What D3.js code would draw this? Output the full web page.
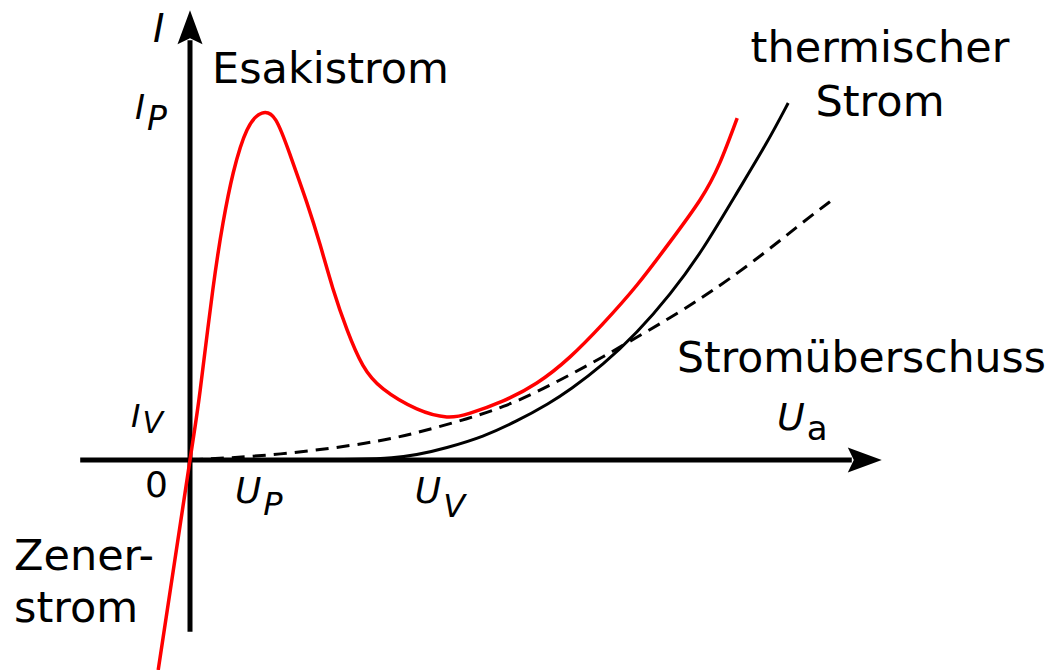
<!DOCTYPE html>
<html>
<head>
<meta charset="utf-8">
<script src="https://cdn.jsdelivr.net/npm/d3@7"></script>
<style>
  html, body { margin: 0; padding: 0; background: #fff; }
  svg { display: block; }
  text { font-family: "DejaVu Sans", sans-serif; fill: #000; }
  .it { font-style: italic; }
</style>
</head>
<body>
<svg width="1051" height="670"></svg>
<script>
// tunnel diode characteristic (U, I in arbitrary units)
const esakiCurve = [
  [-0.53, -6.0], [0, 0], [0.17, 2.0], [0.38, 4.86], [0.55, 6.77], [0.72, 8.2],
  [0.95, 9.43], [1.2, 9.91], [1.43, 9.71], [1.67, 8.71], [1.95, 7.34], [2.17, 6.14],
  [2.38, 4.91], [2.62, 3.71], [2.88, 2.71], [3.22, 2.03], [3.78, 1.46], [4.28, 1.23],
  [4.67, 1.34], [5.22, 1.69], [5.78, 2.2], [6.33, 2.94], [6.88, 3.89], [7.45, 5.0],
  [8.0, 6.23], [8.5, 7.43], [8.83, 8.49], [9.12, 9.77]
];
const thermalCurve = [
  [0, 0], [1.83, 0], [3.5, 0], [4.33, 0.37], [4.88, 0.66], [5.43, 1.09],
  [6.0, 1.63], [6.33, 2.0], [6.88, 2.71], [7.45, 3.63], [8.0, 4.71], [8.55, 6.0],
  [9.08, 7.54], [9.62, 9.06], [9.97, 10.2]
];
const excessCurve = [
  [0, 0], [1.5, 0.14], [3.05, 0.49], [3.78, 0.77], [4.67, 1.2], [5.22, 1.51],
  [5.78, 1.94], [6.33, 2.43], [6.88, 2.94], [7.45, 3.51], [8.0, 4.06], [8.5, 4.6],
  [8.95, 5.12], [9.62, 5.97], [10.17, 6.74], [10.75, 7.49]
];
const peakPoint = [1.2, 9.91];
const valleyPoint = [4.28, 1.23];
const xAxisRange = [-1.83, 11.53];
const yAxisRange = [-4.91, 12.85];

const svg = d3.select('svg');

const x = d3.scaleLinear().domain([0, 10]).range([190, 790]);
const y = d3.scaleLinear().domain([0, 10]).range([460, 110]);

const smoothLine = d3.line()
  .x(d => x(d[0]))
  .y(d => y(d[1]))
  .curve(d3.curveNatural);
const basisLine = d3.line()
  .x(d => x(d[0]))
  .y(d => y(d[1]))
  .curve(d3.curveBasis);

// axes
const x0 = x(0), y0 = y(0);
const xEnd = x(xAxisRange[1]), yEnd = y(yAxisRange[1]);
svg.append('line')
  .attr('x1', x(xAxisRange[0])).attr('y1', y0)
  .attr('x2', xEnd - 30).attr('y2', y0)
  .attr('stroke', '#000').attr('stroke-width', 5);
svg.append('line')
  .attr('x1', x0).attr('y1', y(yAxisRange[0]))
  .attr('x2', x0).attr('y2', yEnd + 30)
  .attr('stroke', '#000').attr('stroke-width', 5);
// arrow heads
svg.append('path')
  .attr('d', `M${xEnd},${y0} L${xEnd - 34},${y0 - 12.5} L${xEnd - 28},${y0} L${xEnd - 34},${y0 + 12.5} Z`)
  .attr('fill', '#000');
svg.append('path')
  .attr('d', `M${x0},${yEnd} L${x0 - 12.5},${yEnd + 34} L${x0},${yEnd + 28} L${x0 + 12.5},${yEnd + 34} Z`)
  .attr('fill', '#000');

// curves
svg.append('path')
  .datum(excessCurve)
  .attr('d', basisLine)
  .attr('fill', 'none')
  .attr('stroke', '#000')
  .attr('stroke-width', 3)
  .attr('stroke-dasharray', '13,8');
svg.append('path')
  .datum(thermalCurve)
  .attr('d', basisLine)
  .attr('fill', 'none')
  .attr('stroke', '#000')
  .attr('stroke-width', 3);
svg.append('path')
  .datum(esakiCurve)
  .attr('d', smoothLine)
  .attr('fill', 'none')
  .attr('stroke', '#ff0000')
  .attr('stroke-width', 3.5);

// label with subscript
function subLabel(px, py, main, sub, size, subSize, dy, subItalic) {
  const t = svg.append('text')
    .attr('x', px).attr('y', py)
    .style('font-size', size + 'px');
  t.append('tspan').attr('class', 'it').text(main);
  t.append('tspan')
    .attr('class', subItalic ? 'it' : null)
    .attr('dx', 2)
    .attr('dy', dy)
    .style('font-size', subSize + 'px')
    .text(sub);
}

// axis names
svg.append('text').attr('class', 'it')
  .attr('x', 153).attr('y', 42)
  .style('font-size', '39px').text('I');
subLabel(777, 430, 'U', 'a', 38, 34, 10, false);

// tick labels at peak and valley
subLabel(135, y(peakPoint[1]) + 6, 'I', 'P', 34, 33, 11, true);
subLabel(131, y(valleyPoint[1]) + 10, 'I', 'V', 32, 30, 6, true);
subLabel(x(peakPoint[0]) - 27, 503, 'U', 'P', 36, 32, 12, true);
subLabel(x(valleyPoint[0]) - 32, 503, 'U', 'V', 36, 32, 14, true);
svg.append('text')
  .attr('x', 145).attr('y', 497)
  .style('font-size', '36px').text('0');

// annotations
svg.append('text')
  .attr('x', 212).attr('y', 83)
  .style('font-size', '43px').text('Esakistrom');
svg.append('text')
  .attr('x', 880).attr('y', 62)
  .attr('text-anchor', 'middle')
  .style('font-size', '43px').text('thermischer');
svg.append('text')
  .attr('x', 880).attr('y', 116)
  .attr('text-anchor', 'middle')
  .style('font-size', '43px').text('Strom');
svg.append('text')
  .attr('x', 677).attr('y', 372)
  .style('font-size', '42.5px').text('Stromüberschuss');
svg.append('text')
  .attr('x', 14).attr('y', 570)
  .style('font-size', '43px').text('Zener-');
svg.append('text')
  .attr('x', 14).attr('y', 622)
  .style('font-size', '43px').text('strom');
</script>
</body>
</html>
